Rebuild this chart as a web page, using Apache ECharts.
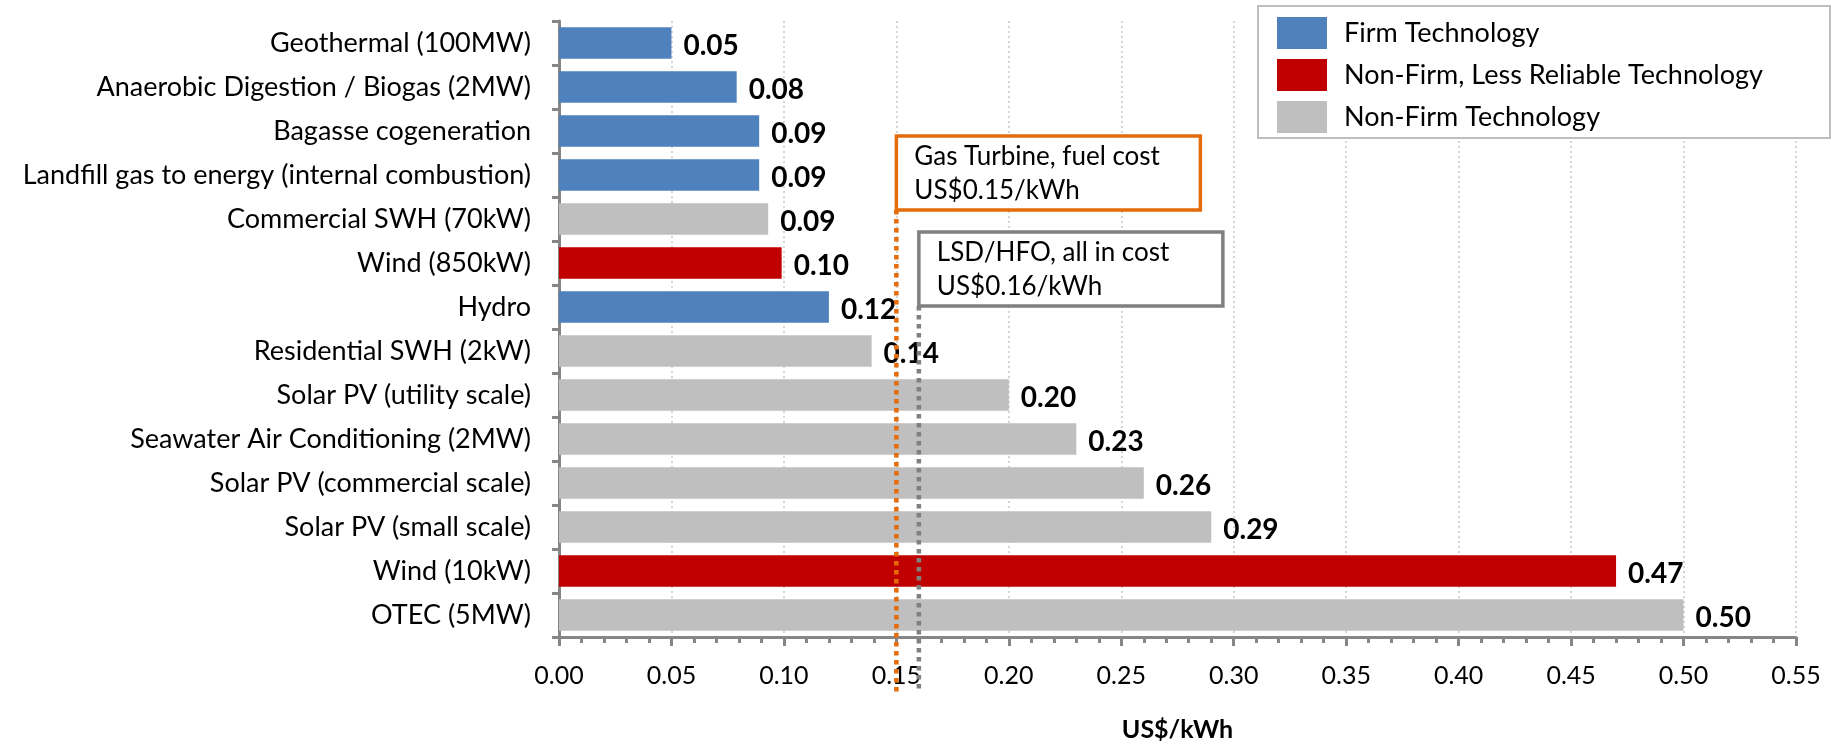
<!DOCTYPE html>
<html>
<head>
<meta charset="utf-8">
<script src="https://cdn.jsdelivr.net/npm/echarts@6/dist/echarts.min.js"></script>
<style>
html, body { margin: 0; padding: 0; background: #fff; }
#main { width: 1839px; height: 747px; }
</style>
</head>
<body>
<div id="main"></div>
<script>
// technologies, top to bottom
var categories = [
    'Geothermal (100MW)',
    'Anaerobic Digestion / Biogas (2MW)',
    'Bagasse cogeneration',
    'Landfill gas to energy (internal combustion)',
    'Commercial SWH (70kW)',
    'Wind (850kW)',
    'Hydro',
    'Residential SWH (2kW)',
    'Solar PV (utility scale)',
    'Seawater Air Conditioning (2MW)',
    'Solar PV (commercial scale)',
    'Solar PV (small scale)',
    'Wind (10kW)',
    'OTEC (5MW)'
];
// US$/kWh
var costs = [0.05, 0.079, 0.089, 0.089, 0.093, 0.099, 0.12, 0.139, 0.20, 0.23, 0.26, 0.29, 0.47, 0.50];
// 0 = firm, 1 = non-firm less reliable, 2 = non-firm
var techGroup = [0, 0, 0, 0, 2, 1, 0, 2, 2, 2, 2, 2, 1, 2];
var groupNames = ['Firm Technology', 'Non-Firm, Less Reliable Technology', 'Non-Firm Technology'];
var groupColors = ['#4F81BD', '#C00000', '#BFBFBF'];
// reference costs drawn as dotted lines with boxes
var refValues = [0.15, 0.16];
var refTexts = ['Gas Turbine, fuel cost\nUS$0.15/kWh', 'LSD/HFO, all in cost\nUS$0.16/kWh'];
var refColors = ['#E46C0A', '#808080'];

var FONT = 'Lato';
var chart = echarts.init(document.getElementById('main'));

var series = [];
for (var g = 0; g < groupNames.length; g++) {
    var data = [];
    for (var i = 0; i < costs.length; i++) {
        data.push(techGroup[i] === g ? costs[i] : '-');
    }
    series.push({
        name: groupNames[g],
        type: 'bar',
        stack: 'cost',
        barCategoryGap: '28%',
        itemStyle: { color: groupColors[g] },
        label: {
            show: true,
            position: 'right',
            distance: 12,
            offset: [0, 3],
            color: '#000',
            fontFamily: FONT,
            fontWeight: 'bold',
            fontSize: 28,
            formatter: function (p) { return p.value.toFixed(2); }
        },
        data: data
    });
}

var option = {
    animation: false,
    grid: { left: 559, right: 43, top: 21, bottom: 104 },
    legend: {
        orient: 'vertical',
        left: 1272,
        top: 12,
        itemWidth: 50,
        itemHeight: 32,
        itemGap: 10,
        icon: 'rect',
        z: 5,
        textStyle: { fontFamily: FONT, fontSize: 27, color: '#000', padding: [0, 0, 0, 12] },
        data: groupNames
    },
    xAxis: {
        type: 'value',
        min: 0,
        max: 0.55,
        interval: 0.05,
        name: 'US$/kWh',
        nameLocation: 'middle',
        nameGap: 80,
        nameTextStyle: { fontFamily: FONT, fontWeight: 'bold', fontSize: 25, color: '#000' },
        axisLine: { show: true, lineStyle: { color: '#868686', width: 3 } },
        axisTick: { show: true, length: 9, lineStyle: { color: '#868686', width: 3 } },
        minorTick: { show: true, splitNumber: 5, length: 6, lineStyle: { color: '#868686', width: 3 } },
        splitLine: { show: true, lineStyle: { color: '#C8C8C8', width: 1.5, type: [2, 3] } },
        axisLabel: {
            fontFamily: FONT, fontSize: 25, color: '#000', margin: 26,
            formatter: function (v) { return v.toFixed(2); }
        }
    },
    yAxis: {
        type: 'category',
        inverse: true,
        data: categories,
        axisLine: { show: true, lineStyle: { color: '#868686', width: 3 } },
        axisTick: { show: true, length: 7, lineStyle: { color: '#868686', width: 3 } },
        axisLabel: { fontFamily: FONT, fontSize: 27, color: '#000', margin: 28 }
    },
    series: series
};
chart.setOption(option);

// legend frame + reference lines, placed with the axis scale
var graphics = [{
    type: 'rect',
    z: 3,
    shape: { x: 1258, y: 6, width: 572, height: 132 },
    style: { fill: '#fff', stroke: '#BFBFBF', lineWidth: 2 }
}];
var boxTops = [136, 232];
for (var r = 0; r < refValues.length; r++) {
    var px = chart.convertToPixel({ xAxisIndex: 0 }, refValues[r]);
    graphics.push({
        type: 'line',
        z: 9,
        shape: { x1: px, y1: boxTops[r] + 74, x2: px, y2: 692 },
        style: { stroke: refColors[r], lineWidth: 4.5, lineDash: [4.5, 4.5] }
    });
    graphics.push({
        type: 'rect',
        z: 10,
        shape: { x: px, y: boxTops[r], width: 304, height: 74 },
        style: { fill: '#fff', stroke: refColors[r], lineWidth: 3.5 }
    });
    graphics.push({
        type: 'text',
        z: 11,
        style: {
            x: px + 18, y: boxTops[r] + 38,
            text: refTexts[r],
            verticalAlign: 'middle',
            fontFamily: FONT, fontSize: 26, lineHeight: 34, fill: '#000'
        }
    });
}
chart.setOption({ graphic: graphics });
</script>
</body>
</html>
